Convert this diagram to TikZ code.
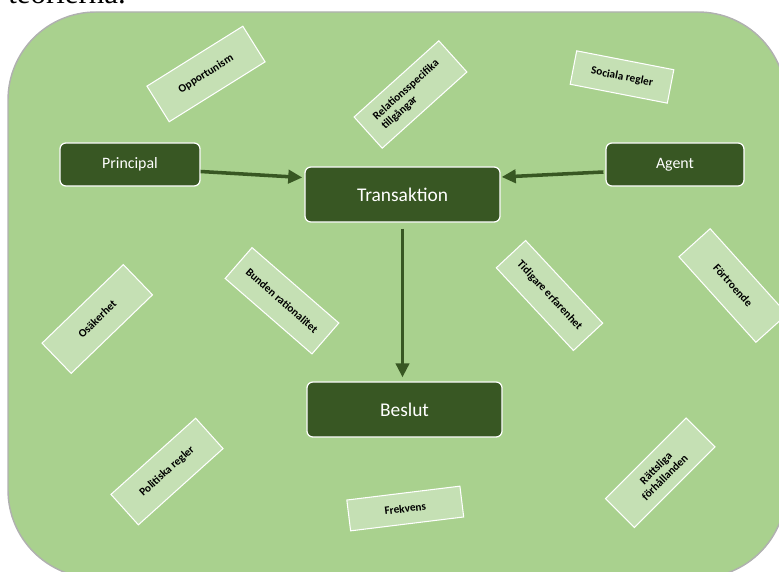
\documentclass[tikz,border=0pt]{standalone}
\usepackage{fontspec}
\setmainfont{Carlito}
\newfontfamily\serifont{Liberation Serif}
\usetikzlibrary{arrows.meta,calc}
\definecolor{bg}{HTML}{A9D18E}
\definecolor{dark}{HTML}{385723}
\definecolor{light}{HTML}{C5E0B4}
\definecolor{rim}{HTML}{B0B0B0}
\begin{document}
\begin{tikzpicture}[x=0.567pt,y=-0.567pt,
  darkbox/.style={draw=white, line width=0.7pt, fill=dark, rounded corners=3.4pt, text=white, inner sep=0pt},
  lbox/.style={draw=white, line width=0.6pt, fill=light, inner sep=0pt, text=black,
    font=\bfseries\fontsize{6.4}{7.2}\selectfont},
  arr/.style={draw=dark, line width=2pt, -{Triangle[length=8pt,width=7.5pt]}}]
\useasboundingbox (0,0) rectangle (779,572);
\clip (0,0) rectangle (779,572);
\path[fill=bg, draw=rim, line width=0.8pt, rounded corners=49.9pt] (8,12) rectangle (786,578);
\node[anchor=base west, inner sep=0pt, font=\serifont\fontsize{17.5}{20}\selectfont] (head) at (8,4) {teorierna.};
% main boxes
\node[darkbox, minimum width=79.4pt, minimum height=24.4pt, font=\fontsize{9}{11}\selectfont] (principal) at (130,164.5) {Principal};
\node[darkbox, minimum width=110.6pt, minimum height=31.2pt, font=\fontsize{11}{13}\selectfont] (trans) at (402.5,194.5) {Transaktion};
\node[darkbox, minimum width=78.2pt, minimum height=24.4pt, font=\fontsize{9}{11}\selectfont] (agent) at (675,164.5) {Agent};
\node[darkbox, minimum width=110.6pt, minimum height=31.2pt, font=\fontsize{11}{13}\selectfont] (beslut) at (404.5,409.5) {Beslut};
% factor boxes
\node[lbox, minimum width=64.1pt, minimum height=23.8pt, rotate=32] (opp) at (206,74) {Opportunism};
\node[lbox, minimum width=64.6pt, minimum height=23.8pt, rotate=42, align=left] (rel) at (410.5,94.5) {Relationsspecifika\\tillgångar};
\node[lbox, minimum width=56.1pt, minimum height=19.3pt, rotate=-11] (soc) at (622,77) {Sociala regler};
\node[lbox, minimum width=64.1pt, minimum height=23.8pt, rotate=44] (osa) at (97.25,319) {Osäkerhet};
\node[lbox, minimum width=65.2pt, minimum height=23.2pt, rotate=-41] (bund) at (282,300.75) {Bunden rationalitet};
\node[lbox, minimum width=64.1pt, minimum height=22.7pt, rotate=-47] (tid) at (549.5,295.5) {Tidigare erfarenhet};
\node[lbox, minimum width=65.2pt, minimum height=23.8pt, rotate=-48] (fort) at (733,285.5) {Förtroende};
\node[lbox, minimum width=64.6pt, minimum height=23.2pt, rotate=42] (pol) at (167,471.5) {Politiska regler};
\node[lbox, minimum width=64.6pt, minimum height=17.6pt, rotate=7] (frek) at (405.25,508.5) {Frekvens};
\node[lbox, minimum width=64.6pt, minimum height=23.2pt, rotate=45, align=center] (ratt) at (660.25,472.75) {Rättsliga\\förhållanden};
% arrows
\draw[arr] ($(principal.east)+(0,7)$) -- ($(trans.west)+(-2,-17)$);
\draw[arr] ($(agent.west)+(-2,7.5)$) -- ($(trans.east)+(1,-17.5)$);
\draw[arr] ($(trans.south)+(0,6)$) -- ($(trans.south |- beslut.north)+(0,-4)$);
\end{tikzpicture}
\end{document}
